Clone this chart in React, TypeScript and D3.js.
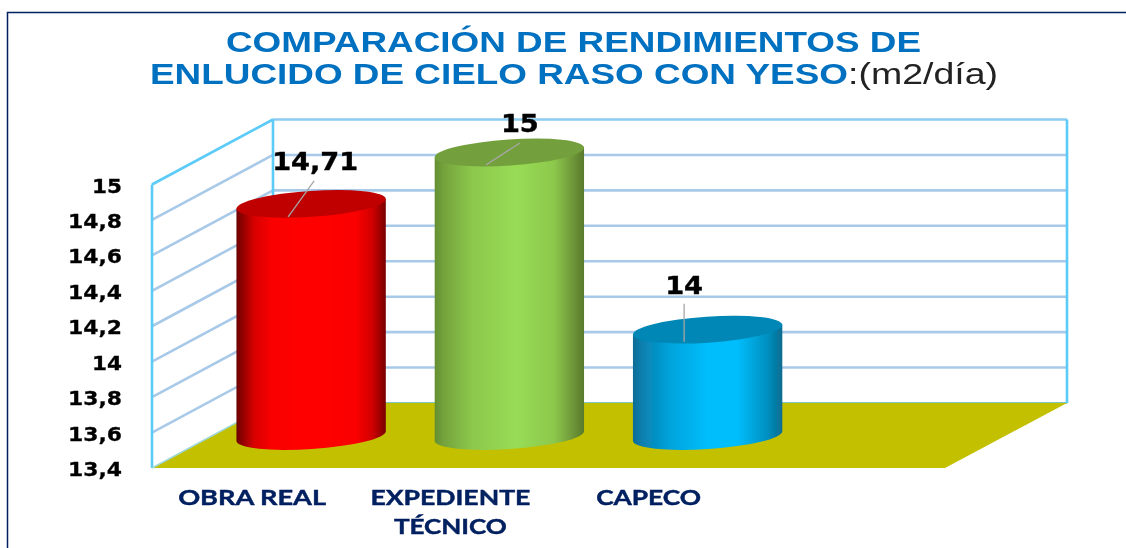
import React from "react";
import * as d3 from "d3";

const categories = ["OBRA REAL", "EXPEDIENTE TÉCNICO", "CAPECO", ""];
const values = [14.71, 15, 14];
const valueLabels = ["14,71", "15", "14"];
const tickValues = [13.4, 13.6, 13.8, 14, 14.2, 14.4, 14.6, 14.8, 15];
const tickLabels = ["13,4", "13,6", "13,8", "14", "14,2", "14,4", "14,6", "14,8", "15"];
const gridValues = [13.6, 13.8, 14, 14.2, 14.4, 14.6, 14.8];

const W = 1126, H = 548;
const FX0 = 152, FX1 = 945, FY0 = 468, FY1 = 184.5; // front plane
const DX = 121, DY = -65; // depth offset
const GX1 = FX1 + DX + 1;

const x = d3.scaleBand<string>().domain(categories).range([FX0, FX1]);
const yFront = d3.scaleLinear().domain([13.4, 15]).range([FY0, FY1]);
const yCyl = d3.scaleLinear().domain([13.4, 15]).range([436, 152.5]);

const palettes = [
  { top: "#c00000", stops: [["0%", "#6a0000"], ["3%", "#880000"], ["12%", "#d80000"], ["24%", "#fa0000"], ["50%", "#ff0000"], ["80%", "#fa0000"], ["91%", "#d00000"], ["100%", "#780000"]] },
  { top: "#73a03c", stops: [["0%", "#648f32"], ["6%", "#74a23c"], ["25%", "#8cc84c"], ["55%", "#98dc55"], ["80%", "#8cc84c"], ["92%", "#70983a"], ["100%", "#587a2c"]] },
  { top: "#0087b5", stops: [["0%", "#0a6c96"], ["6%", "#0a7fae"], ["25%", "#00a4dc"], ["50%", "#00bdfc"], ["70%", "#00bdfc"], ["90%", "#0090c0"], ["100%", "#0a6c90"]] },
];

const catLines = [
  [{ t: "OBRA REAL", len: 148, y: 505 }],
  [{ t: "EXPEDIENTE", len: 160, y: 505 }, { t: "TÉCNICO", len: 113, y: 534 }],
  [{ t: "CAPECO", len: 105, y: 505 }],
];
// connector and label offsets relative to cylinder-top centre
const callouts = [
  { lx: 4, ly: -34, x1: 3, y1: -23, x2: -23, y2: 13 },
  { lx: 10.5, ly: -20.5, x1: 10.5, y1: -9.5, x2: -23.5, y2: 12.5 },
  { lx: -23.5, ly: -36, x1: -23.5, y1: -26, x2: -23.5, y2: 12 },
];
const labelLens = [86, 38, 38];
const tickLen = (s: string) => (s.length > 2 ? 54 : 30);

export default function App() {
  const font = "'DejaVu Sans', sans-serif";
  const bw = x.bandwidth();
  const rx = bw * 0.3775;
  const ry = 13;
  const tilt = -3.8;
  const sin = Math.sin((tilt * Math.PI) / 180) * rx;
  const cos = Math.cos((tilt * Math.PI) / 180) * rx;
  return (
    <svg width={W} height={H} style={{ position: "absolute", left: 0, top: 0, background: "#fff" }}>
      <defs>
        {palettes.map((p, i) => (
          <linearGradient key={i} id={`g${i}`} x1="0" x2="1" y1="0" y2="0">
            {p.stops.map(([o, c]) => <stop key={o} offset={o} stopColor={c} />)}
          </linearGradient>
        ))}
        <filter id="soft" x="-5%" y="-5%" width="110%" height="110%"><feGaussianBlur stdDeviation="0.6" /></filter>
        <filter id="softT" x="-5%" y="-20%" width="110%" height="140%"><feGaussianBlur stdDeviation="0.3" /></filter>
      </defs>
      <path d={`M7.5 548V12.5H1126`} fill="none" stroke="#002060" strokeWidth={1.5} />

      <g filter="url(#soft)">
        {gridValues.map((v) => {
          const y = yFront(v);
          return (
            <g key={v} stroke="#a8c9e8" strokeWidth={2.6} fill="none">
              <line x1={FX0} y1={y} x2={FX0 + DX} y2={y + DY} />
              <line x1={FX0 + DX} y1={y + DY} x2={GX1} y2={y + DY} />
            </g>
          );
        })}
        <line x1={FX0 + DX} y1={FY1 + DY} x2={GX1} y2={FY1 + DY} stroke="#8ccbf0" strokeWidth={2.6} />
        <line x1={FX0 + DX} y1={FY0 + DY} x2={GX1} y2={FY0 + DY} stroke="#7cc8c0" strokeWidth={2} />
        <polygon
          points={`${FX0},${FY0} ${FX1},${FY0} ${GX1},${FY0 + DY} ${FX0 + DX},${FY0 + DY}`}
          fill="#c3c000"
        />
        <g stroke="#5ccbf7" strokeWidth={2.6} fill="none">
          <line x1={FX0} y1={FY0} x2={FX0} y2={FY1} />
          <line x1={FX0 + DX} y1={FY0 + DY} x2={FX0 + DX} y2={FY1 + DY} />
          <line x1={GX1} y1={FY0 + DY} x2={GX1} y2={FY1 + DY} />
          <line x1={FX0} y1={FY1} x2={FX0 + DX} y2={FY1 + DY} />
        </g>
        <line x1={FX0} y1={FY0} x2={FX0 + DX} y2={FY0 + DY} stroke="#9ed8d8" strokeWidth={1.5} />

        {values.map((v, i) => {
          const cx = x(categories[i])! + bw / 2 + 60;
          const yt = yCyl(v);
          const yb = yCyl(13.4);
          const d =
            `M${cx - cos} ${yt - sin}` +
            `L${cx - cos} ${yb - sin}` +
            `A${rx} ${ry} ${tilt} 0 0 ${cx + cos} ${yb + sin}` +
            `L${cx + cos} ${yt + sin}Z`;
          return (
            <g key={i}>
              <path d={d} fill={`url(#g${i})`} />
              <ellipse cx={cx} cy={yt} rx={rx} ry={ry} fill={palettes[i].top} transform={`rotate(${tilt} ${cx} ${yt})`} />
            </g>
          );
        })}
      </g>

      {values.map((v, i) => {
        const cx = x(categories[i])! + bw / 2 + 60;
        const yt = yCyl(v);
        const c = callouts[i];
        return (
          <g key={i}>
            <line x1={cx + c.x1} y1={yt + c.y1} x2={cx + c.x2} y2={yt + c.y2} stroke="#a6a6a6" strokeWidth={1.3} />
            <text x={cx + c.lx} y={yt + c.ly} textAnchor="middle" fontFamily={font} fontWeight={700} fontSize={25}
              textLength={labelLens[i]} lengthAdjust="spacingAndGlyphs" fill="#000" stroke="#000" strokeWidth={0.4} filter="url(#softT)">
              {valueLabels[i]}
            </text>
          </g>
        );
      })}

      {tickValues.map((v, i) => (
        <text key={v} x={122} y={yFront(v) + 8} textAnchor="end" fontFamily={font} fontWeight={700} fontSize={20}
          textLength={tickLen(tickLabels[i])} lengthAdjust="spacingAndGlyphs" fill="#000" stroke="#000" strokeWidth={0.3} filter="url(#softT)">
          {tickLabels[i]}
        </text>
      ))}

      {catLines.map((lines, i) =>
        lines.map((l) => (
          <text key={l.t} x={x(categories[i])! + bw / 2 + 1} y={l.y} textAnchor="middle" fontFamily="Lato, sans-serif" fontWeight={700}
            fontSize={20} textLength={l.len} lengthAdjust="spacingAndGlyphs" fill="#002060" stroke="#002060" strokeWidth={0.4} filter="url(#softT)">
            {l.t}
          </text>
        ))
      )}

      <g fontFamily="'Liberation Sans', Arial, sans-serif" fontSize={29} filter="url(#softT)">
        <text x={226} y={52} fontWeight={700} fill="#0070c0" textLength={695} lengthAdjust="spacingAndGlyphs">
          COMPARACIÓN DE RENDIMIENTOS DE
        </text>
        <text x={150} y={84} fontWeight={700} fill="#0070c0" textLength={698} lengthAdjust="spacingAndGlyphs">
          ENLUCIDO DE CIELO RASO CON YESO
        </text>
        <text x={848} y={84} fill="#222" textLength={150} lengthAdjust="spacingAndGlyphs">:(m2/día)</text>
      </g>
    </svg>
  );
}
